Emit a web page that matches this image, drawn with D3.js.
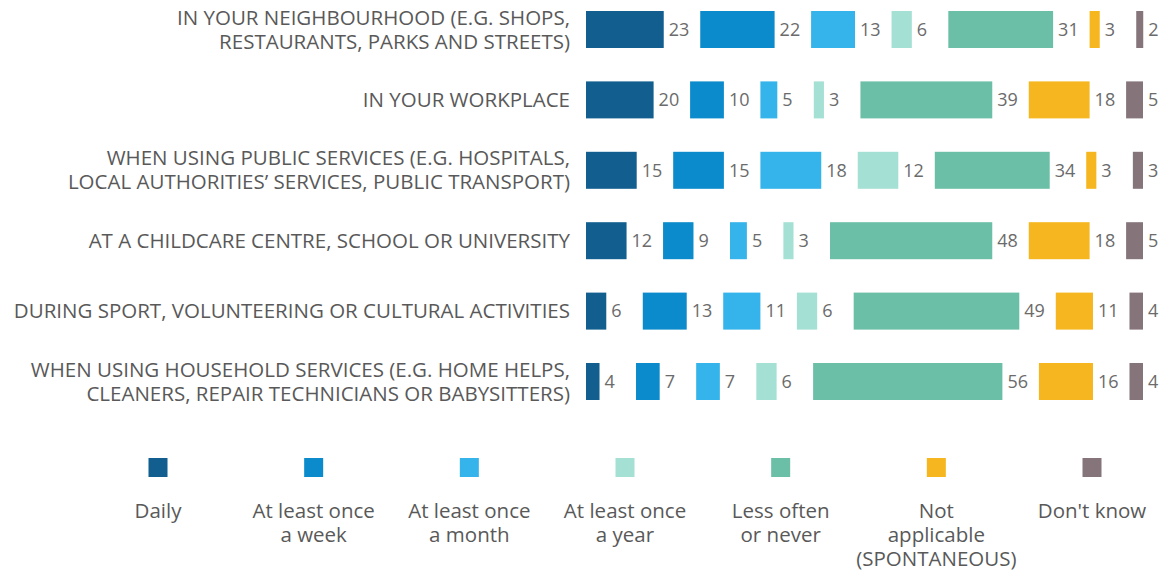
<!DOCTYPE html>
<head>
	<meta charset="utf-8">
	<title>Discrimination frequency by setting</title>
	<script src="https://d3js.org/d3.v7.min.js"></script>
	<style>
		body{
			margin: 0;
			background-color: white;
			font-family: 'Open Sans', sans-serif;
		}
		.catLabel{
			font-size: 20.5px;
			fill: #595959;
		}
		.valLabel{
			font-size: 18px;
			fill: #6b6b6b;
		}
		.legLabel{
			font-size: 20.5px;
			fill: #595959;
		}
	</style>
</head>
<body>
	<div id="chart"></div>

	<script>
		var width = 1168;
		var height = 573;

		//row labels (split on two lines where the original does)
		var categories = [
			["IN YOUR NEIGHBOURHOOD (E.G. SHOPS,", "RESTAURANTS, PARKS AND STREETS)"],
			["IN YOUR WORKPLACE"],
			["WHEN USING PUBLIC SERVICES (E.G. HOSPITALS,", "LOCAL AUTHORITIES\u2019 SERVICES, PUBLIC TRANSPORT)"],
			["AT A CHILDCARE CENTRE, SCHOOL OR UNIVERSITY"],
			["DURING SPORT, VOLUNTEERING OR CULTURAL ACTIVITIES"],
			["WHEN USING HOUSEHOLD SERVICES (E.G. HOME HELPS,", "CLEANERS, REPAIR TECHNICIANS OR BABYSITTERS)"]
		];

		//legend labels
		var seriesNames = [
			["Daily"],
			["At least once", "a week"],
			["At least once", "a month"],
			["At least once", "a year"],
			["Less often", "or never"],
			["Not", "applicable", "(SPONTANEOUS)"],
			["Don't know"]
		];

		//values per series, one per row (percent)
		var daily         = [23, 20, 15, 12,  6,  4];
		var weekly        = [22, 10, 15,  9, 13,  7];
		var monthly       = [13,  5, 18,  5, 11,  7];
		var yearly        = [ 6,  3, 12,  3,  6,  6];
		var lessOften     = [31, 39, 34, 48, 49, 56];
		var notApplicable = [ 3, 18,  3, 18, 11, 16];
		var dontKnow      = [ 2,  5,  3,  5,  4,  4];

		var series = [daily, weekly, monthly, yearly, lessOften, notApplicable, dontKnow];

		var colors = d3.scaleOrdinal()
			.domain(d3.range(series.length))
			.range(["#125f8f", "#0b8bcb", "#34b4ea", "#a5e0d4", "#6bbfa6", "#f6b61f", "#85757b"]);

		var svg = d3.select("#chart").append("svg")
			.attr("width", width)
			.attr("height", height);

		var barStart = 586;   //left edge of every row
		var gap = 36.5;       //room left after each bar for its number
		var barHeight = 37;

		var x = d3.scaleLinear().domain([0, 100]).range([0, 338]);
		var y = d3.scalePoint().domain(d3.range(categories.length)).range([29.5, 381.5]);

		//one record per segment, with its start position in the row
		var rows = categories.map(function(c, r){
			var pos = barStart;
			return series.map(function(s, i){
				var seg = {row: r, series: i, value: s[r], x0: pos};
				pos += x(s[r]) + gap;
				return seg;
			});
		});

		var rowG = svg.selectAll(".row").data(rows).enter().append("g")
			.attr("class", "row")
			.attr("transform", function(d, r){ return "translate(0," + y(r) + ")"; });

		rowG.selectAll("rect").data(function(d){ return d; }).enter().append("rect")
			.attr("x", function(d){ return d.x0; })
			.attr("y", -barHeight / 2)
			.attr("width", function(d){ return Math.max(x(d.value), 7); })
			.attr("height", barHeight)
			.attr("fill", function(d){ return colors(d.series); });

		rowG.selectAll(".valLabel").data(function(d){ return d; }).enter().append("text")
			.attr("class", "valLabel")
			.attr("x", function(d){ return d.x0 + Math.max(x(d.value), 7) + 5; })
			.attr("y", 0)
			.attr("dy", "0.35em")
			.text(function(d){ return d.value; });

		//category labels, right aligned next to the bars
		var cat = svg.selectAll(".catLabel").data(categories).enter().append("text")
			.attr("class", "catLabel")
			.attr("text-anchor", "end")
			.attr("transform", function(d, r){ return "translate(570," + y(r) + ")"; });

		cat.selectAll("tspan").data(function(d){ return d; }).enter().append("tspan")
			.attr("x", 0)
			.attr("y", function(t, i, nodes){ return (i - (nodes.length - 1) / 2) * 24; })
			.attr("dy", "0.35em")
			.text(function(t){ return t; });

		//legend
		var lx = d3.scalePoint().domain(d3.range(seriesNames.length)).range([158, 1092]);

		var legend = svg.selectAll(".legend").data(seriesNames).enter().append("g")
			.attr("class", "legend")
			.attr("transform", function(d, i){ return "translate(" + lx(i) + ",0)"; });

		legend.append("rect")
			.attr("x", -9.5)
			.attr("y", 458)
			.attr("width", 19)
			.attr("height", 19)
			.attr("fill", function(d, i){ return colors(i); });

		legend.append("text")
			.attr("class", "legLabel")
			.attr("text-anchor", "middle")
			.selectAll("tspan").data(function(d){ return d; }).enter().append("tspan")
			.attr("x", 0)
			.attr("y", function(t, i){ return 511 + i * 24; })
			.attr("dy", "0.35em")
			.text(function(t){ return t; });
	</script>
</body>
